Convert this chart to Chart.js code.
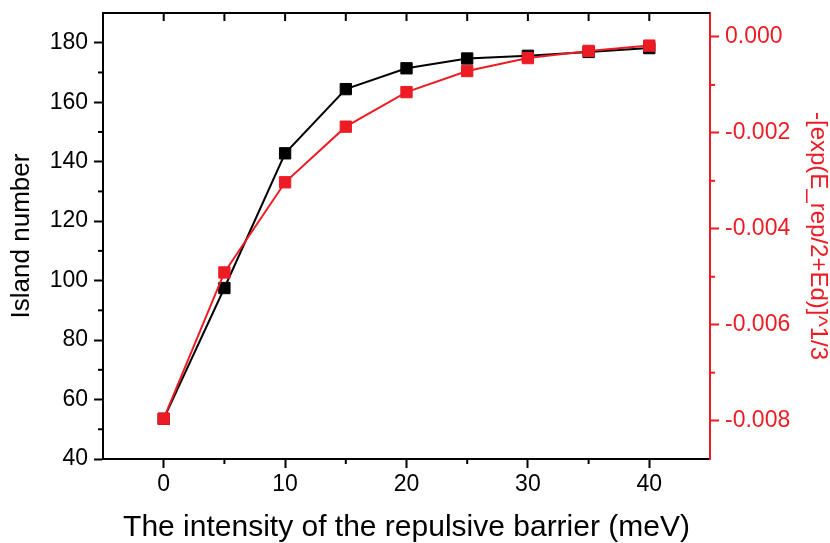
<!DOCTYPE html>
<html>
<head>
<meta charset="utf-8">
<script src="https://cdn.jsdelivr.net/npm/chart.js@4"></script>
<style>
  html, body { margin: 0; padding: 0; background: #fff; }
  #wrap { width: 830px; height: 543px; }
</style>
</head>
<body>
<div id="wrap"><canvas id="c" width="830" height="543"></canvas></div>
<script>
// ---- data ----
const energies = [0, 5, 10, 15, 20, 25, 30, 35, 40];
const islandNumber = [53.5, 97.5, 142.8, 164.4, 171.4, 174.7, 175.6, 176.9, 178.2];
const expTerm = [-0.00796, -0.00491, -0.00303, -0.00187, -0.00115, -0.00071, -0.00044, -0.00029, -0.00018];

const xTicks = [0, 10, 20, 30, 40];
const xMinor = [5, 15, 25, 35];
const leftTicks = [40, 60, 80, 100, 120, 140, 160, 180];
const leftMinor = [50, 70, 90, 110, 130, 150, 170];
const rightTicks = [-0.008, -0.006, -0.004, -0.002, 0.000];
const rightMinor = [-0.007, -0.005, -0.003, -0.001];

const xTitle = 'The intensity of the repulsive barrier (meV)';
const leftTitle = 'Island number';
const rightTitle = '-[exp(E_rep/2+Ed)]^1/3';

const RED = '#ED1C24';
const BLACK = '#000000';
const FONT = "'Liberation Sans', Arial, sans-serif";

const noPad = s => { s.paddingTop = 0; s.paddingBottom = 0; s.paddingLeft = 0; s.paddingRight = 0; };

const extraTicks = {
  id: 'extraTicks',
  afterDraw(chart) {
    const { ctx, chartArea: a, scales } = chart;
    const x = scales.x, yL = scales.yL, yR = scales.yR;
    ctx.save();
    ctx.lineWidth = 2;
    ctx.lineCap = 'butt';
    const line = (x1, y1, x2, y2, c) => {
      ctx.strokeStyle = c;
      ctx.beginPath(); ctx.moveTo(x1, y1); ctx.lineTo(x2, y2); ctx.stroke();
    };
    // top frame
    line(a.left - 1, a.top, a.right, a.top, BLACK);
    xTicks.concat(xMinor).forEach(v => {
      const px = x.getPixelForValue(v);
      line(px, a.top, px, a.top + 8, BLACK);
    });
    xMinor.forEach(v => {
      const px = x.getPixelForValue(v);
      line(px, a.bottom, px, a.bottom + 5, BLACK);
    });
    leftMinor.forEach(v => {
      const py = yL.getPixelForValue(v);
      line(a.left - 5, py, a.left, py, BLACK);
    });
    rightMinor.forEach(v => {
      const py = yR.getPixelForValue(v);
      line(a.right, py, a.right + 5, py, RED);
    });
    ctx.restore();
  }
};

new Chart(document.getElementById('c'), {
  type: 'line',
  data: {
    datasets: [
      {
        label: leftTitle,
        data: energies.map((e, i) => ({ x: e, y: islandNumber[i] })),
        yAxisID: 'yL',
        borderColor: BLACK,
        backgroundColor: BLACK,
        borderWidth: 2,
        pointStyle: 'rect',
        pointRadius: 8,
        pointBorderWidth: 1,
        pointBorderColor: BLACK,
        pointBackgroundColor: BLACK,
        tension: 0,
        order: 2
      },
      {
        label: rightTitle,
        data: energies.map((e, i) => ({ x: e, y: expTerm[i] })),
        yAxisID: 'yR',
        borderColor: RED,
        backgroundColor: RED,
        borderWidth: 2,
        pointStyle: 'rect',
        pointRadius: 8,
        pointBorderWidth: 1,
        pointBorderColor: RED,
        pointBackgroundColor: RED,
        tension: 0,
        order: 1
      }
    ]
  },
  options: {
    responsive: false,
    animation: false,
    devicePixelRatio: 1,
    layout: { padding: { top: 13, left: 0, right: 0, bottom: 0 } },
    plugins: { legend: { display: false }, tooltip: { enabled: false } },
    scales: {
      x: {
        type: 'linear',
        position: 'bottom',
        min: -5,
        max: 45,
        afterBuildTicks: s => { s.ticks = xTicks.map(v => ({ value: v })); },
        afterFit: s => { s.height = 84; noPad(s); },
        grid: { display: true, drawOnChartArea: false, drawTicks: true, tickLength: 9, tickWidth: 2, tickColor: BLACK },
        border: { display: true, color: BLACK, width: 2 },
        ticks: { color: BLACK, font: { family: FONT, size: 23 }, padding: 3, maxRotation: 0,
                 callback: v => String(v) },
        title: { display: true, text: xTitle, color: BLACK,
                 font: { family: FONT, size: 30, lineHeight: 1 }, padding: { top: 0, bottom: 0 } }
      },
      yL: {
        type: 'linear',
        position: 'left',
        min: 40,
        max: 190,
        afterBuildTicks: s => { s.ticks = leftTicks.map(v => ({ value: v })); },
        afterFit: s => { s.width = 103; noPad(s); },
        grid: { display: true, drawOnChartArea: false, drawTicks: true, tickLength: 9, tickWidth: 2, tickColor: BLACK },
        border: { display: true, color: BLACK, width: 2 },
        ticks: { color: BLACK, font: { family: FONT, size: 23 }, padding: 6, callback: v => String(v) },
        title: { display: true, text: leftTitle, color: BLACK,
                 font: { family: FONT, size: 26, lineHeight: 1 }, padding: { top: 9, bottom: 0 } }
      },
      yR: {
        type: 'linear',
        position: 'right',
        min: -0.0088,
        max: 0.0005,
        afterBuildTicks: s => { s.ticks = rightTicks.map(v => ({ value: v })); },
        afterFit: s => { s.width = 120; noPad(s); },
        grid: { display: true, drawOnChartArea: false, drawTicks: true, tickLength: 9, tickWidth: 2, tickColor: RED },
        border: { display: true, color: RED, width: 2 },
        ticks: { color: RED, font: { family: FONT, size: 23 }, padding: 6,
                 callback: v => (Math.abs(v) < 1e-12 ? 0 : v).toFixed(3) },
        title: { display: true, text: rightTitle, color: RED,
                 font: { family: FONT, size: 24, lineHeight: 1 }, padding: { top: 0, bottom: 0 } }
      }
    }
  },
  plugins: [extraTicks]
});
</script>
</body>
</html>
